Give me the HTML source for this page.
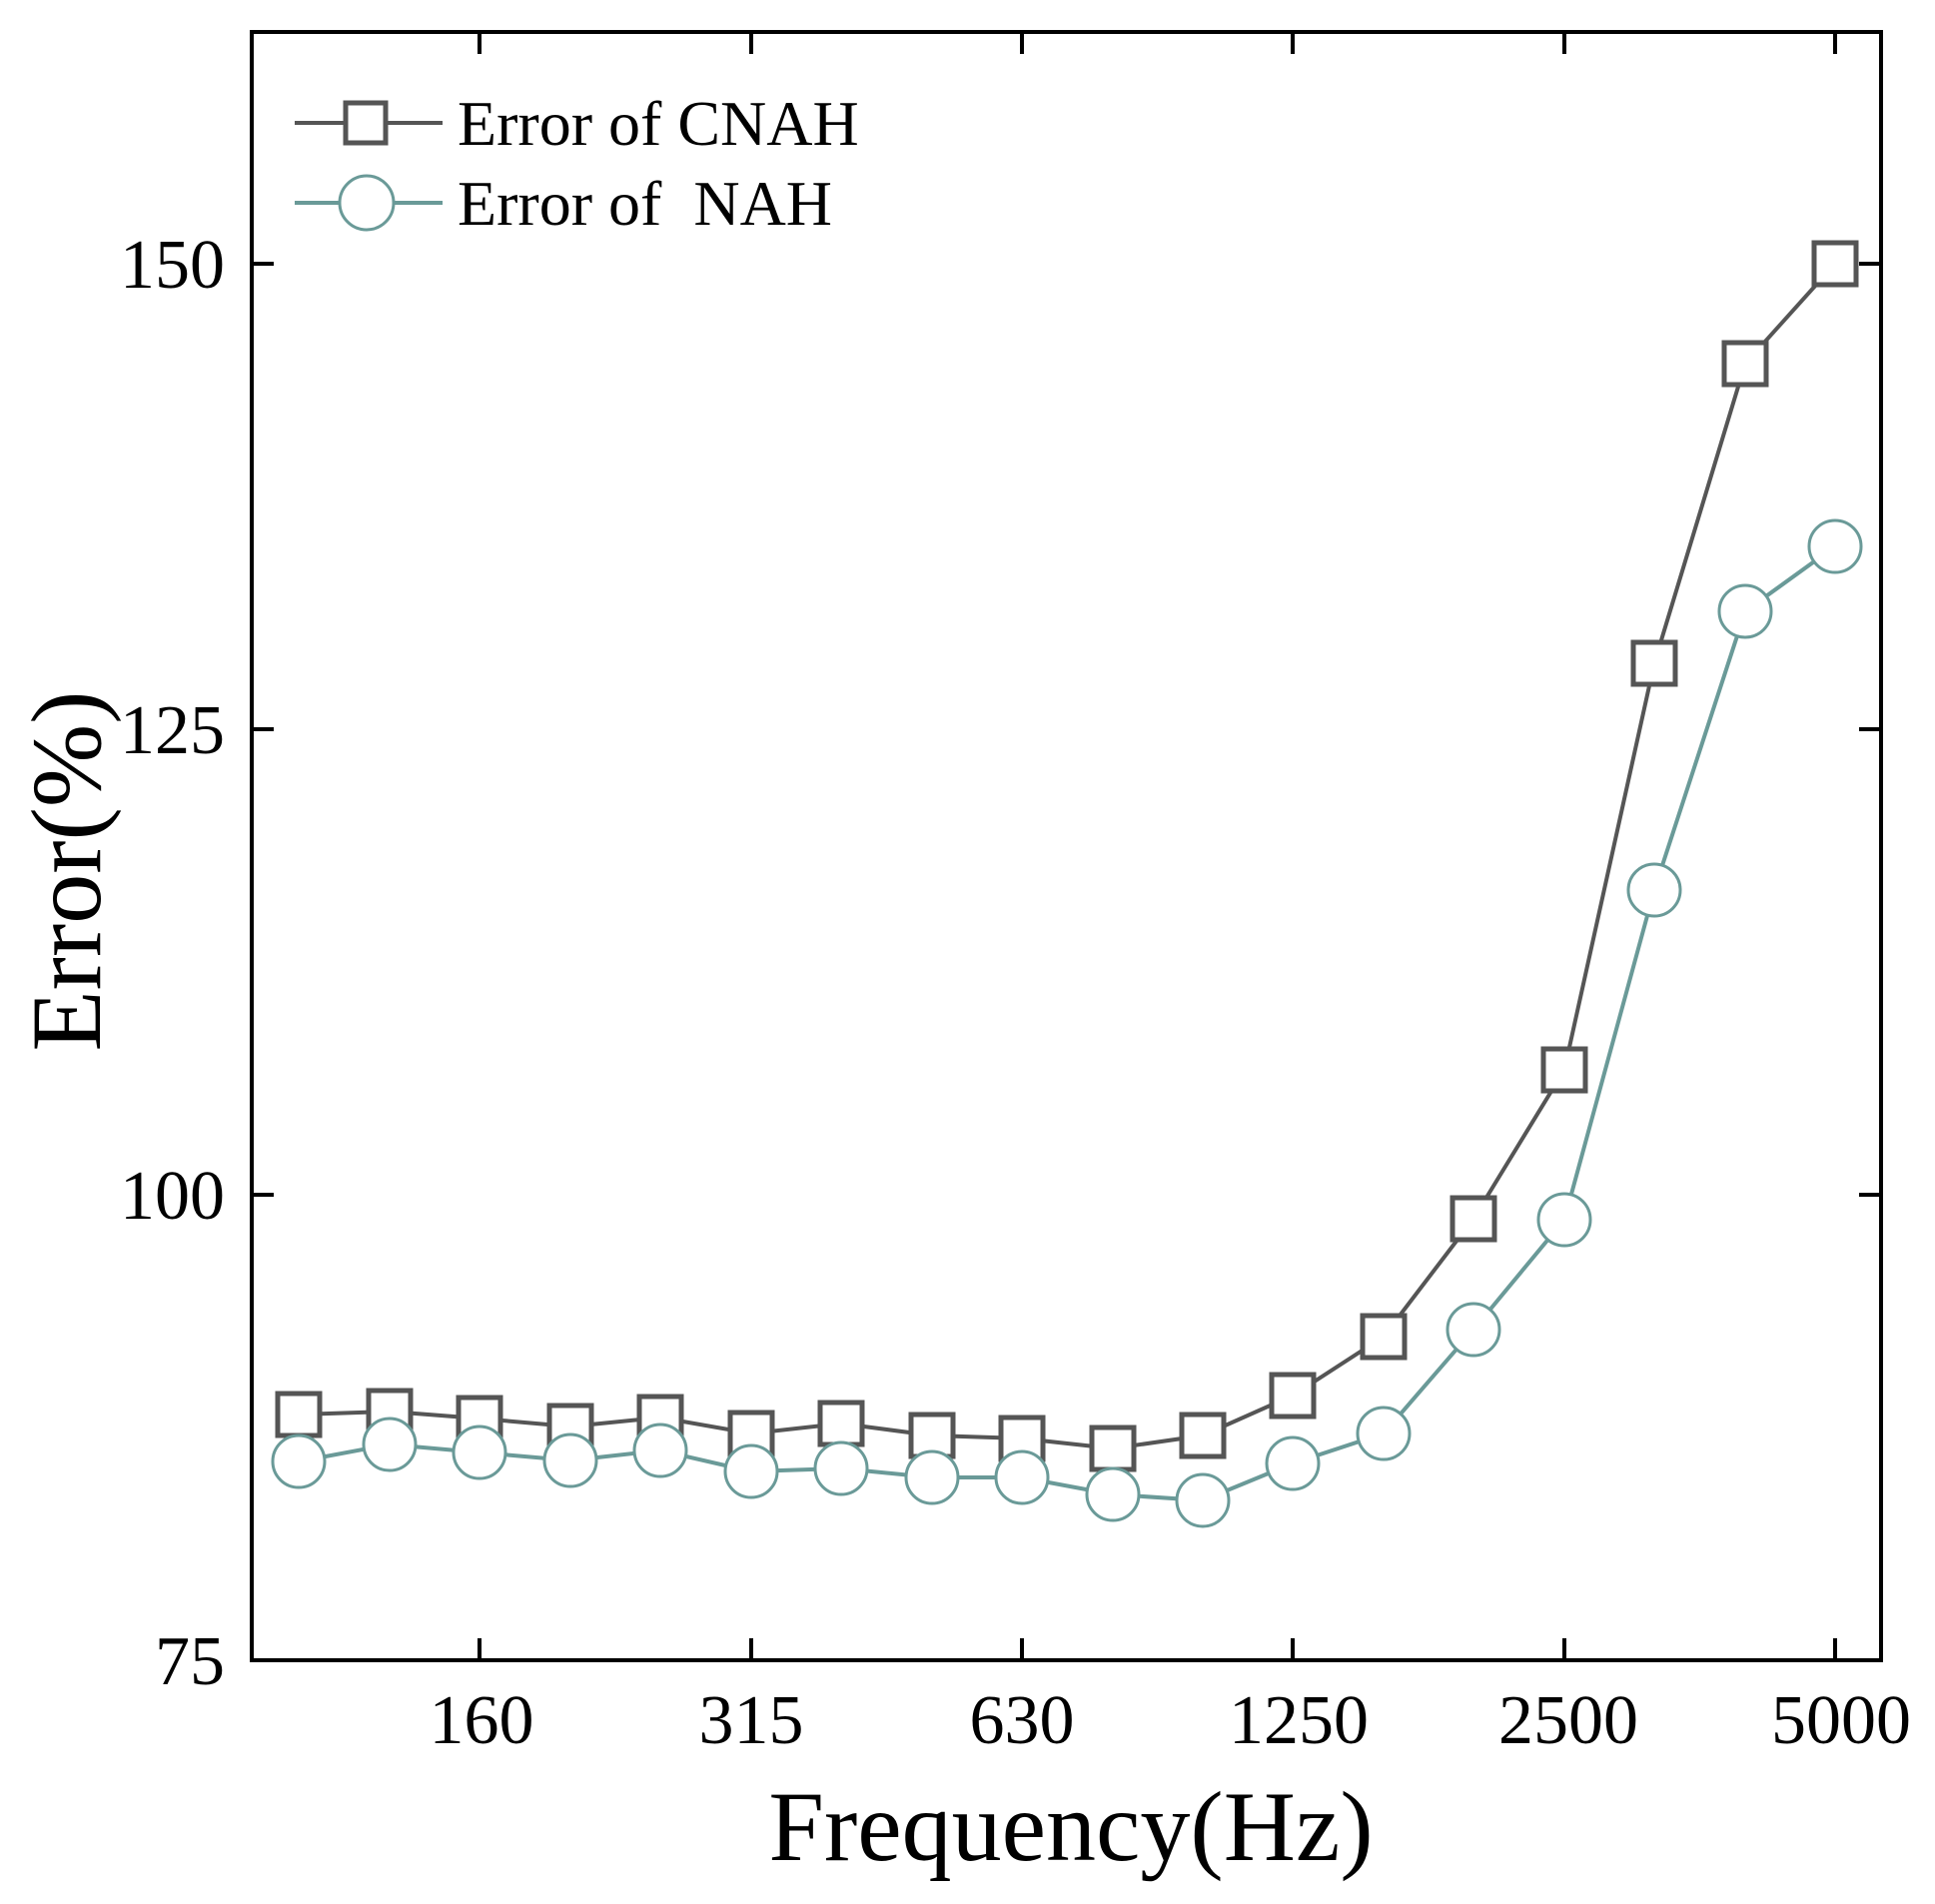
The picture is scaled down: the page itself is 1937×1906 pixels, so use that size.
<!DOCTYPE html>
<html><head><meta charset="utf-8"><style>html,body{margin:0;padding:0;background:#fff}</style></head>
<body>
<svg width="1937" height="1901" viewBox="0 0 1937 1901" xmlns="http://www.w3.org/2000/svg" font-family="Liberation Serif, serif">
<rect width="1937" height="1901" fill="#fff"/>
<g stroke="#000" stroke-width="4">
<rect x="252" y="32" width="1631" height="1630" fill="none"/>
<path d="M480 1662v-22M752 1662v-22M1023 1662v-22M1294 1662v-22M1566 1662v-22M1837 1662v-22
M480 32v22M752 32v22M1023 32v22M1294 32v22M1566 32v22M1837 32v22"/>
<path d="M252 264h22M252 730h22M252 1196h22M1883 264h-22M1883 730h-22M1883 1196h-22"/>
</g>
<g font-size="70" text-anchor="end" fill="#000">
<text x="225" y="288">150</text>
<text x="225" y="754">125</text>
<text x="225" y="1220">100</text>
<text x="225" y="1686">75</text>
</g>
<g font-size="70" text-anchor="middle" fill="#000">
<text x="482" y="1745">160</text>
<text x="752" y="1745">315</text>
<text x="1023" y="1745">630</text>
<text x="1300" y="1745">1250</text>
<text x="1570" y="1745">2500</text>
<text x="1843" y="1745">5000</text>
</g>
<text x="1072" y="1862" font-size="100" text-anchor="middle">Frequency(Hz)</text>
<text transform="translate(100,872) rotate(-90)" font-size="100" text-anchor="middle">Error(%)</text>
<polyline fill="none" stroke="#555" stroke-width="4" points="299,1416 390,1413 480,1420 571,1428 661,1419 752,1435 842,1425 933,1437 1023,1440 1114,1450 1204,1437 1294,1397 1385,1338 1475,1220 1566,1071 1656,664 1747,364 1837,264"/>
<polyline fill="none" stroke="#6a9a98" stroke-width="4" points="299,1463 390,1446 480,1454 571,1462 661,1452 752,1473 842,1470 933,1479 1023,1479 1114,1496 1204,1502 1294,1465 1385,1435 1475,1331 1566,1221 1656,891 1747,612 1837,547"/>
<g fill="#fff" stroke="#555" stroke-width="5">
<rect x="278" y="1395" width="42" height="42"/><rect x="369" y="1392" width="42" height="42"/><rect x="459" y="1399" width="42" height="42"/><rect x="550" y="1407" width="42" height="42"/><rect x="640" y="1398" width="42" height="42"/><rect x="731" y="1414" width="42" height="42"/><rect x="821" y="1404" width="42" height="42"/><rect x="912" y="1416" width="42" height="42"/><rect x="1002" y="1419" width="42" height="42"/><rect x="1093" y="1429" width="42" height="42"/><rect x="1183" y="1416" width="42" height="42"/><rect x="1273" y="1376" width="42" height="42"/><rect x="1364" y="1317" width="42" height="42"/><rect x="1454" y="1199" width="42" height="42"/><rect x="1545" y="1050" width="42" height="42"/><rect x="1635" y="643" width="42" height="42"/><rect x="1726" y="343" width="42" height="42"/><rect x="1816" y="243" width="42" height="42"/>
</g>
<g fill="#fff" stroke="#6a9a98" stroke-width="3">
<circle cx="299" cy="1463" r="26"/><circle cx="390" cy="1446" r="26"/><circle cx="480" cy="1454" r="26"/><circle cx="571" cy="1462" r="26"/><circle cx="661" cy="1452" r="26"/><circle cx="752" cy="1473" r="26"/><circle cx="842" cy="1470" r="26"/><circle cx="933" cy="1479" r="26"/><circle cx="1023" cy="1479" r="26"/><circle cx="1114" cy="1496" r="26"/><circle cx="1204" cy="1502" r="26"/><circle cx="1294" cy="1465" r="26"/><circle cx="1385" cy="1435" r="26"/><circle cx="1475" cy="1331" r="26"/><circle cx="1566" cy="1221" r="26"/><circle cx="1656" cy="891" r="26"/><circle cx="1747" cy="612" r="26"/><circle cx="1837" cy="547" r="26"/>
</g>
<line x1="295" y1="123" x2="443" y2="123" stroke="#555" stroke-width="4"/>
<rect x="346" y="103" width="40" height="40" fill="#fff" stroke="#555" stroke-width="5"/>
<line x1="295" y1="203" x2="443" y2="203" stroke="#6a9a98" stroke-width="4"/>
<circle cx="367" cy="203" r="27" fill="#fff" stroke="#6a9a98" stroke-width="3"/>
<g font-size="64" fill="#000">
<text x="458" y="145">Error of CNAH</text>
<text x="458" y="225" xml:space="preserve">Error of  NAH</text>
</g>
</svg>
</body></html>
